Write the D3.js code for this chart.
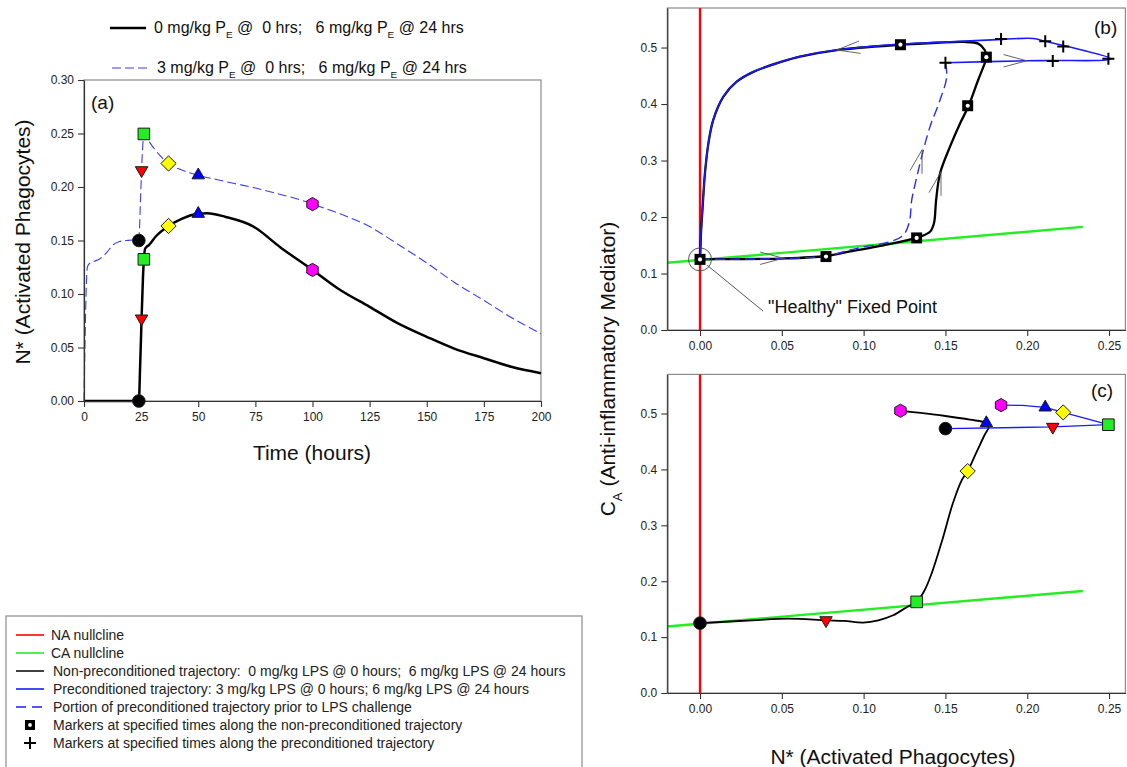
<!DOCTYPE html>
<html>
<head>
<meta charset="utf-8">
<script src="https://cdn.jsdelivr.net/npm/d3@7"></script>
<style>
  body { margin: 0; background: #fff; }
  svg { display: block; font-family: Arial, "Liberation Sans", sans-serif; }
  text { white-space: pre; }
</style>
</head>
<body>
<svg id="fig" width="1127" height="767"></svg>
<script>
// ---------- panel (a): N* time courses ----------
const timeNonPre = [0, 24, 24.6, 25.2, 25.8, 26.2, 26.8, 28.5, 31.5, 37, 43, 50, 54, 62, 74, 86, 100, 112, 125, 137, 150, 162, 175, 187, 200];
const nNonPre    = [0, 0, 0.035, 0.077, 0.115, 0.132, 0.1425, 0.146, 0.154, 0.1636, 0.1705, 0.175, 0.1755, 0.172, 0.1632, 0.1435, 0.1225, 0.104, 0.088, 0.073, 0.060, 0.049, 0.040, 0.032, 0.026];
const timePre = [0, 0.4, 0.9, 1.5, 2.6, 4.5, 7, 10, 12.8, 15.5, 18.7, 21.5, 24, 24.6, 25.2, 25.7, 26.2, 28, 30.3, 33, 37, 42, 50, 58, 65.3, 75, 86, 94.5, 100, 112, 125, 137, 150, 162, 175, 187, 200];
const nPre    = [0, 0.05, 0.1, 0.1255, 0.129, 0.1305, 0.133, 0.139, 0.146, 0.149, 0.150, 0.1505, 0.150, 0.18, 0.2156, 0.238, 0.2496, 0.244, 0.237, 0.230, 0.222, 0.2165, 0.211, 0.207, 0.2035, 0.199, 0.193, 0.188, 0.184, 0.175, 0.163, 0.147, 0.129, 0.111, 0.094, 0.078, 0.063];

// markers at specified times (shared by all three panels)
const markerHours  = [24, 25.2, 26.2, 37, 50, 100];
const markerShapes = ["circle", "triDown", "square", "diamond", "triUp", "hexagon"];
const markerFills  = ["#000000", "#ff0000", "#22ee22", "#ffff00", "#0000ff", "#ff00ff"];
const markerNNonPre = [0, 0.077, 0.1324, 0.1636, 0.175, 0.1225];
const markerCNonPre = [0.125, 0.130, 0.163, 0.397, 0.483, 0.505];
const markerNPre    = [0.150, 0.2156, 0.2496, 0.222, 0.211, 0.184];
const markerCPre    = [0.473, 0.476, 0.480, 0.502, 0.511, 0.515];

// ---------- panel (b): phase-plane trajectories ----------
const bNonPreN = [0, 0.02, 0.05, 0.077, 0.0917, 0.112, 0.1331, 0.1406, 0.143, 0.1443, 0.1467, 0.1528, 0.159, 0.1642, 0.170, 0.174, 0.1752, 0.174, 0.170, 0.161, 0.1447, 0.1227, 0.0836, 0.061, 0.05, 0.0326, 0.0224, 0.0143, 0.0081, 0.0051, 0.003, 0.0016, 0.0006, 0];
const bNonPreC = [0.125, 0.1255, 0.1265, 0.131, 0.139, 0.150, 0.164, 0.174, 0.189, 0.230, 0.277, 0.3245, 0.366, 0.397, 0.4425, 0.472, 0.483, 0.4956, 0.507, 0.510, 0.5085, 0.505, 0.4956, 0.484, 0.475, 0.457, 0.4395, 0.413, 0.372, 0.330, 0.277, 0.218, 0.171, 0.125];
const bPreDashN = [0, 0.02, 0.05, 0.077, 0.0917, 0.0998, 0.116, 0.1243, 0.128, 0.1294, 0.1325, 0.1365, 0.1406, 0.1467, 0.1508, 0.150];
const bPreDashC = [0.125, 0.1255, 0.1265, 0.131, 0.1416, 0.147, 0.156, 0.168, 0.1917, 0.230, 0.271, 0.3186, 0.360, 0.407, 0.448, 0.473];
const bPreN = [0.150, 0.1997, 0.2164, 0.251, 0.223, 0.211, 0.2037, 0.185, 0.1528, 0.1227, 0.0836, 0.061, 0.05, 0.0326, 0.0224, 0.0143, 0.0081, 0.0051, 0.003, 0.0016, 0.0006, 0];
const bPreC = [0.473, 0.4766, 0.477, 0.480, 0.503, 0.511, 0.516, 0.5145, 0.510, 0.506, 0.4956, 0.484, 0.475, 0.457, 0.4395, 0.413, 0.372, 0.330, 0.277, 0.218, 0.171, 0.125];
// direction arrows along the trajectories (apex N*, apex CA, heading in degrees)
const arrowN = [0.0836, 0.0509, 0.1997, 0.1357, 0.1473];
const arrowC = [0.4956, 0.127, 0.4766, 0.319, 0.280];
const arrowHeading = [173, 0, 0, -75, -75];

// ---------- panel (c): trajectories between the marked times ----------
const cNonPreN = [0, 0.032, 0.054, 0.077, 0.088, 0.0998, 0.109, 0.118, 0.1266, 0.1324, 0.1373, 0.1416, 0.148, 0.1545, 0.16, 0.1636, 0.1695, 0.174, 0.1765, 0.175, 0.165, 0.149, 0.135, 0.1225];
const cNonPreC = [0.125, 0.130, 0.133, 0.130, 0.129, 0.126, 0.130, 0.139, 0.154, 0.163, 0.184, 0.214, 0.273, 0.339, 0.381, 0.397, 0.434, 0.462, 0.476, 0.483, 0.489, 0.496, 0.501, 0.505];
const cPreN = [0.150, 0.2156, 0.2496, 0.222, 0.211, 0.197, 0.184];
const cPreC = [0.473, 0.476, 0.480, 0.502, 0.511, 0.5145, 0.515];

// nullclines
const naNullN = [0, 0];
const naNullC = [0, 0.57];
const caNullN = [-0.02, 0.234];
const caNullC = [0.119, 0.1825];

// "Healthy" fixed point annotation
const fixedN = 0, fixedC = 0.125;
const healthyLabelN = 0.0416, healthyLabelC = 0.030;

// tick values
const hourTicks = d3.range(0, 201, 25);
const nStarTicksA = [0, 0.05, 0.10, 0.15, 0.20, 0.25, 0.30];
const nStarTicksBC = [0, 0.05, 0.10, 0.15, 0.20, 0.25];
const caTicks = [0, 0.1, 0.2, 0.3, 0.4, 0.5];

// ---------- scales ----------
const xA = d3.scaleLinear([0, 200], [84, 541]);
const yA = d3.scaleLinear([0, 0.30], [401, 80]);
const xB = d3.scaleLinear([-0.02, 0.26], [667.3, 1125.4]);
const yB = d3.scaleLinear([0, 0.57], [330, 8]);
const xC = d3.scaleLinear([-0.02, 0.26], [667.3, 1125.4]);
const yC = d3.scaleLinear([0, 0.57], [693, 374.4]);

const svg = d3.select("#fig");

function styleAxis(g) {
  g.select(".domain").attr("stroke", "#333").attr("stroke-width", 1.2);
  g.selectAll(".tick line").attr("stroke", "#333").attr("stroke-width", 1.1);
  g.selectAll(".tick text").attr("fill", "#222").attr("font-size", 12)
    .attr("font-family", "Arial, 'Liberation Sans', sans-serif");
}

function panelFrame(x, y) {
  svg.append("rect")
    .attr("x", x.range()[0]).attr("y", y.range()[1])
    .attr("width", x.range()[1] - x.range()[0])
    .attr("height", y.range()[0] - y.range()[1])
    .attr("fill", "none").attr("stroke", "#8c8c8c").attr("stroke-width", 1.2);
}

function panelAxes(x, y, xt, yt, xf, yf) {
  svg.append("g").attr("transform", `translate(0,${y.range()[0]})`)
    .call(d3.axisBottom(x).tickValues(xt).tickFormat(xf).tickSize(6).tickSizeOuter(0).tickPadding(5))
    .call(styleAxis);
  svg.append("g").attr("transform", `translate(${x.range()[0]},0)`)
    .call(d3.axisLeft(y).tickValues(yt).tickFormat(yf).tickSize(6).tickSizeOuter(0).tickPadding(4))
    .call(styleAxis);
}

function markerPath(shape) {
  const p = d3.path();
  if (shape === "circle") { p.arc(0, 0, 6.3, 0, 2 * Math.PI); }
  else if (shape === "square") { p.rect(-5.8, -5.8, 11.6, 11.6); }
  else if (shape === "diamond") { p.moveTo(0, -7.6); p.lineTo(7.6, 0); p.lineTo(0, 7.6); p.lineTo(-7.6, 0); p.closePath(); }
  else if (shape === "triUp" || shape === "triDown") {
    const s = shape === "triUp" ? 1 : -1, R = 7.2;
    p.moveTo(0, -R * s); p.lineTo(R * 0.866, R * 0.5 * s); p.lineTo(-R * 0.866, R * 0.5 * s); p.closePath();
  } else if (shape === "hexagon") {
    const R = 6.6;
    for (let k = 0; k < 6; k++) {
      const a = -Math.PI / 2 + k * Math.PI / 3;
      if (k === 0) p.moveTo(R * Math.cos(a), R * Math.sin(a)); else p.lineTo(R * Math.cos(a), R * Math.sin(a));
    }
    p.closePath();
  }
  return p.toString();
}

function drawMarkers(xs, ys, x, y) {
  markerShapes.forEach((shape, i) => {
    svg.append("path").attr("d", markerPath(shape))
      .attr("transform", `translate(${x(xs[i])},${y(ys[i])})`)
      .attr("fill", markerFills[i]).attr("stroke", "#1a1a1a").attr("stroke-width", 1);
  });
}

function curvePath(xs, ys, x, y, curve) {
  return d3.line().x(d => x(d[0])).y(d => y(d[1])).curve(curve)(d3.zip(xs, ys));
}

function subLabel(g, parts, size) {
  // parts: [text, isSubscript]
  parts.forEach(([t, sub], i) => {
    const prevSub = i > 0 && parts[i - 1][1];
    const ts = g.append("tspan").text(t);
    if (sub) ts.attr("font-size", size * 0.62).attr("dy", size * 0.32);
    else if (prevSub) ts.attr("dy", -size * 0.32);
  });
}

// ================= panel (a) =================
panelFrame(xA, yA);
svg.append("path").attr("d", curvePath(timePre, nPre, xA, yA, d3.curveMonotoneX))
  .attr("fill", "none").attr("stroke", "#3b3bff").attr("stroke-width", 1.1).attr("stroke-dasharray", "9,4");
svg.append("path").attr("d", curvePath(timeNonPre, nNonPre, xA, yA, d3.curveMonotoneX))
  .attr("fill", "none").attr("stroke", "#000").attr("stroke-width", 2.5);
panelAxes(xA, yA, hourTicks, nStarTicksA, d3.format("d"), d3.format(".2f"));
drawMarkers(markerHours, markerNPre, xA, yA);
drawMarkers(markerHours, markerNNonPre, xA, yA);

svg.append("text").attr("x", 91).attr("y", 109).attr("font-size", 19).attr("fill", "#111").text("(a)");
svg.append("text").attr("x", 312).attr("y", 460).attr("text-anchor", "middle")
  .attr("font-size", 21).attr("fill", "#111").text("Time (hours)");
svg.append("text").attr("transform", "translate(30,242) rotate(-90)").attr("text-anchor", "middle")
  .attr("font-size", 21).attr("fill", "#111").text("N* (Activated Phagocytes)");

// legend above panel (a)
svg.append("line").attr("x1", 110).attr("x2", 146).attr("y1", 28).attr("y2", 28)
  .attr("stroke", "#000").attr("stroke-width", 2.5);
subLabel(svg.append("text").attr("x", 154).attr("y", 33).attr("font-size", 16).attr("fill", "#111"),
  [["0 mg/kg P", false], ["E", true], [" @  0 hrs;   6 mg/kg P", false], ["E", true], [" @ 24 hrs", false]], 16);
svg.append("line").attr("x1", 112).attr("x2", 148).attr("y1", 68).attr("y2", 68)
  .attr("stroke", "#3b3bff").attr("stroke-width", 1.1).attr("stroke-dasharray", "9,4");
subLabel(svg.append("text").attr("x", 157).attr("y", 73).attr("font-size", 16).attr("fill", "#111"),
  [["3 mg/kg P", false], ["E", true], [" @  0 hrs;   6 mg/kg P", false], ["E", true], [" @ 24 hrs", false]], 16);

// ================= panel (b) =================
panelFrame(xB, yB);
svg.append("path").attr("d", curvePath(naNullN, naNullC, xB, yB, d3.curveLinear))
  .attr("stroke", "#ff0000").attr("stroke-width", 2.4).attr("fill", "none");
svg.append("path").attr("d", curvePath(caNullN, caNullC, xB, yB, d3.curveLinear))
  .attr("stroke", "#22ee22").attr("stroke-width", 2.4).attr("fill", "none");
svg.append("path").attr("d", curvePath(bNonPreN, bNonPreC, xB, yB, d3.curveCatmullRom.alpha(0.5)))
  .attr("fill", "none").attr("stroke", "#000").attr("stroke-width", 2.3);
svg.append("path").attr("d", curvePath(bPreN, bPreC, xB, yB, d3.curveCatmullRom.alpha(0.5)))
  .attr("fill", "none").attr("stroke", "#1a1aff").attr("stroke-width", 1.6);
svg.append("path").attr("d", curvePath(bPreDashN, bPreDashC, xB, yB, d3.curveCatmullRom.alpha(0.5)))
  .attr("fill", "none").attr("stroke", "#2b2bff").attr("stroke-width", 1.4).attr("stroke-dasharray", "10,5");

arrowN.forEach((n, i) => {
  const ax = xB(n), ay = yB(arrowC[i]);
  const th = arrowHeading[i] * Math.PI / 180, s = 15 * Math.PI / 180, L = 24;
  const p = d3.path();
  p.moveTo(ax - L * Math.cos(th - s), ay - L * Math.sin(th - s));
  p.lineTo(ax, ay);
  p.lineTo(ax - L * Math.cos(th + s), ay - L * Math.sin(th + s));
  svg.append("path").attr("d", p.toString()).attr("fill", "none")
    .attr("stroke", "#555").attr("stroke-width", 0.9);
});

// fixed-point annotation
{
  const cx = xB(fixedN), cy = yB(fixedC);
  const tx = xB(healthyLabelN), ty = yB(healthyLabelC);
  svg.append("circle").attr("cx", cx).attr("cy", cy).attr("r", 11.5)
    .attr("fill", "none").attr("stroke", "#444").attr("stroke-width", 0.9);
  const ex = tx - 5, ey = ty - 2;
  const ang = Math.atan2(ey - cy, ex - cx);
  svg.append("line").attr("x1", cx + 9 * Math.cos(ang)).attr("y1", cy + 9 * Math.sin(ang))
    .attr("x2", ex).attr("y2", ey).attr("stroke", "#444").attr("stroke-width", 0.9);
  svg.append("text").attr("x", tx).attr("y", ty).attr("font-size", 18).attr("fill", "#111")
    .text("\"Healthy\" Fixed Point");
}

// trajectory markers
markerNNonPre.forEach((n, i) => {
  const g = svg.append("g").attr("transform", `translate(${xB(n)},${yB(markerCNonPre[i])})`);
  g.append("rect").attr("x", -5.5).attr("y", -5.5).attr("width", 11).attr("height", 11).attr("fill", "#000");
  g.append("circle").attr("r", 2.1).attr("fill", "#fff");
});
markerNPre.forEach((n, i) => {
  svg.append("path").attr("d", "M-6,0H6M0,-6V6")
    .attr("transform", `translate(${xB(n)},${yB(markerCPre[i])})`)
    .attr("stroke", "#000").attr("stroke-width", 2);
});
panelAxes(xB, yB, nStarTicksBC, caTicks, d3.format(".2f"), d3.format(".1f"));
svg.append("text").attr("x", 1094).attr("y", 34).attr("font-size", 19).attr("fill", "#111").text("(b)");

// ================= panel (c) =================
panelFrame(xC, yC);
svg.append("path").attr("d", curvePath(naNullN, naNullC, xC, yC, d3.curveLinear))
  .attr("stroke", "#ff0000").attr("stroke-width", 2.4).attr("fill", "none");
svg.append("path").attr("d", curvePath(caNullN, caNullC, xC, yC, d3.curveLinear))
  .attr("stroke", "#22ee22").attr("stroke-width", 2.4).attr("fill", "none");
svg.append("path").attr("d", curvePath(cNonPreN, cNonPreC, xC, yC, d3.curveCatmullRom.alpha(0.5)))
  .attr("fill", "none").attr("stroke", "#000").attr("stroke-width", 1.8);
svg.append("path").attr("d", curvePath(cPreN, cPreC, xC, yC, d3.curveLinear))
  .attr("fill", "none").attr("stroke", "#1a1aff").attr("stroke-width", 1.3);
drawMarkers(markerNNonPre, markerCNonPre, xC, yC);
drawMarkers(markerNPre, markerCPre, xC, yC);
panelAxes(xC, yC, nStarTicksBC, caTicks, d3.format(".2f"), d3.format(".1f"));
svg.append("text").attr("x", 1091).attr("y", 397).attr("font-size", 19).attr("fill", "#111").text("(c)");

svg.append("text").attr("x", 893).attr("y", 764).attr("text-anchor", "middle")
  .attr("font-size", 21).attr("fill", "#111").text("N* (Activated Phagocytes)");
subLabel(svg.append("text").attr("transform", "translate(615,369) rotate(-90)")
  .attr("text-anchor", "middle").attr("font-size", 21).attr("fill", "#111"),
  [["C", false], ["A", true], [" (Anti-inflammatory Mediator)", false]], 21);

// ================= key box =================
const keyLabels = [
  "NA nullcline",
  "CA nullcline",
  "Non-preconditioned trajectory:  0 mg/kg LPS @ 0 hours;  6 mg/kg LPS @ 24 hours",
  "Preconditioned trajectory: 3 mg/kg LPS @ 0 hours; 6 mg/kg LPS @ 24 hours",
  "Portion of preconditioned trajectory prior to LPS challenge",
  "Markers at specified times along the non-preconditioned trajectory",
  "Markers at specified times along the preconditioned trajectory"
];
const keyKinds = ["red", "green", "black", "blue", "dash", "square", "plus"];
svg.append("rect").attr("x", 6).attr("y", 616).attr("width", 576).attr("height", 160)
  .attr("fill", "#fff").attr("stroke", "#8c8c8c").attr("stroke-width", 1.2);
keyLabels.forEach((label, i) => {
  const yy = 635 + i * 18;
  const kind = keyKinds[i];
  if (kind === "square") {
    svg.append("rect").attr("x", 25).attr("y", yy - 5).attr("width", 10).attr("height", 10).attr("fill", "#000");
    svg.append("circle").attr("cx", 30).attr("cy", yy).attr("r", 1.9).attr("fill", "#fff");
  } else if (kind === "plus") {
    svg.append("path").attr("d", `M24,${yy}H36M30,${yy - 6}V${yy + 6}`).attr("stroke", "#000").attr("stroke-width", 2);
  } else {
    const col = { red: "#ff0000", green: "#22ee22", black: "#111", blue: "#1a1aff", dash: "#1a1aff" }[kind];
    const ln = svg.append("line").attr("x1", 16).attr("x2", 44).attr("y1", yy).attr("y2", yy)
      .attr("stroke", col).attr("stroke-width", 1.6);
    if (kind === "dash") ln.attr("stroke-dasharray", "10,6");
  }
  svg.append("text").attr("x", i < 2 ? 51 : 53).attr("y", yy + 5)
    .attr("font-size", 14).attr("fill", "#222").text(label);
});
</script>
</body>
</html>
